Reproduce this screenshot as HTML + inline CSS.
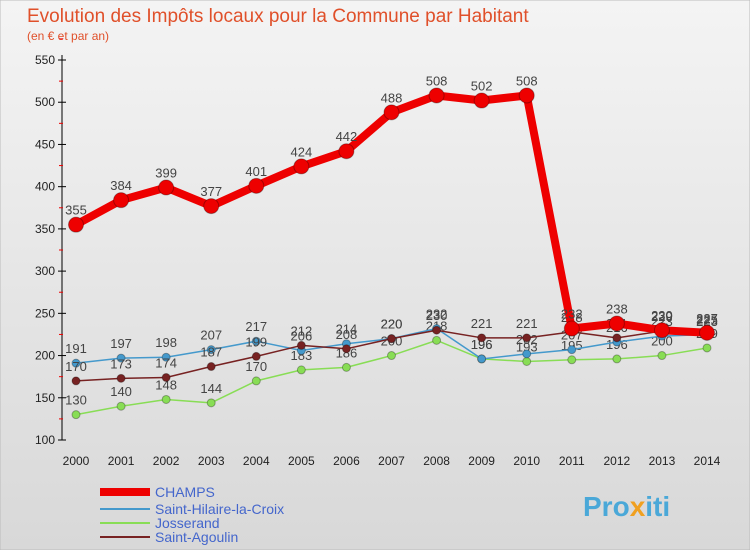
<!DOCTYPE html>
<html><head><meta charset="utf-8"><style>
body{margin:0;width:750px;height:550px;overflow:hidden;font-family:"Liberation Sans",sans-serif}
svg{display:block}
</style></head><body>
<svg width="750" height="550" xmlns="http://www.w3.org/2000/svg">
<defs><linearGradient id="bg" x1="0" y1="0" x2="0" y2="1"><stop offset="0" stop-color="#f4f4f4"/><stop offset="1" stop-color="#d8d8d8"/></linearGradient></defs>
<rect x="0" y="0" width="750" height="550" fill="url(#bg)" stroke="#bbb"/>
<text x="27" y="22" font-size="19" fill="#e0502a">Evolution des Impôts locaux pour la Commune par Habitant</text>
<text x="27" y="40" font-size="12" fill="#e0502a">(en € et par an)</text>
<g id="axes"></g><g id="series"></g><g id="legend"></g>
<text x="583" y="516" font-size="28" font-weight="bold" fill="#4aa8d8">Pro<tspan fill="#f0a020">x</tspan>iti</text>
</svg>
<script>
const years=[2000,2001,2002,2003,2004,2005,2006,2007,2008,2009,2010,2011,2012,2013,2014];
const yTicks=[100,150,200,250,300,350,400,450,500,550];
const champs=[355,384,399,377,401,424,442,488,508,502,508,232,238,230,227];
const hilaire=[191,197,198,207,217,206,214,220,232,196,202,207,216,223,225];
const josserand=[130,140,148,144,170,183,186,200,218,196,193,195,196,200,209];
const agoulin=[170,173,174,187,199,212,208,220,230,221,221,228,221,229,223];
const NS="http://www.w3.org/2000/svg";
const X=i=>76+i*(631/14);
const Y=v=>440-(v-100)*(380/450);
function mk(t,a,p){const e=document.createElementNS(NS,t);for(const k in a)e.setAttribute(k,a[k]);p.appendChild(e);return e;}
const ax=document.getElementById('axes');
const yl=mk('line',{x1:62,y1:55,x2:62,y2:440,stroke:'#000'},ax);


yTicks.forEach(v=>{
 mk('line',{x1:58,x2:66,y1:Y(v),y2:Y(v),stroke:'#000'},ax);
 mk('line',{x1:59,x2:63,y1:Y(v+25),y2:Y(v+25),stroke:'#e00'},ax);
 const t=mk('text',{x:55,y:Y(v)+4,'text-anchor':'end','font-size':12,fill:'#222'},ax);t.textContent=v;
 
 
});
years.forEach((y,i)=>{
 const t=mk('text',{x:X(i),y:465,'text-anchor':'middle','font-size':12,fill:'#222'},ax);t.textContent=y;
 
 
});
const sg=document.getElementById('series');
function draw(vals,color,w,r,name){
 const g=mk('g',{},sg);
 
 
 mk('polyline',{points:vals.map((v,i)=>X(i)+','+Y(v)).join(' '),fill:'none',stroke:color,'stroke-width':w,'stroke-linejoin':'round'},g);
 vals.forEach((v,i)=>{
  const c=mk('circle',{cx:X(i),cy:Y(v),r:r,fill:color,stroke:'rgba(0,0,0,0.3)'},g);
  
  
  const t=mk('text',{x:X(i),y:Y(v)-10,'text-anchor':'middle','font-size':13,fill:'#444'},g);t.textContent=v;
  
  
 });
}
draw(josserand,'#88dd55',1.5,4,'josserand');
draw(hilaire,'#4499cc',1.5,4,'saint-hilaire');
draw(agoulin,'#772222',1.5,4,'saint-agoulin');
draw(champs,'#ee0000',8,7.5,'champs');
const lg=document.getElementById('legend');
[['CHAMPS','#ee0000',8,492],['Saint-Hilaire-la-Croix','#4499cc',2,509],['Josserand','#88dd55',2,523],['Saint-Agoulin','#772222',2,537]].forEach(d=>{
 const g=mk('g',{},lg);
 
 
 mk('line',{x1:100,x2:150,y1:d[3],y2:d[3],stroke:d[1],'stroke-width':d[2]},g);
 const t=mk('text',{x:155,y:d[3]+5,'font-size':14,fill:'#4466cc'},g);t.textContent=d[0];
});
</script>
</body></html>
